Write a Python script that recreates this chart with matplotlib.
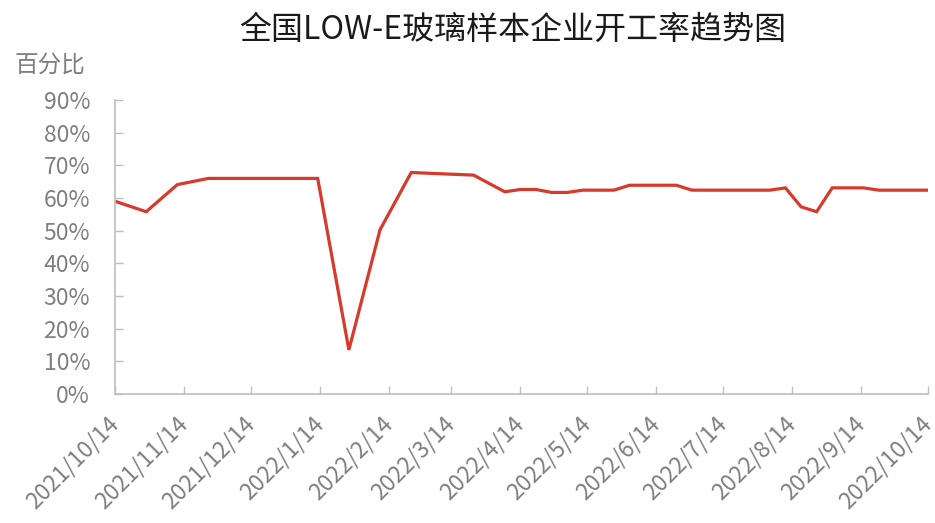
import matplotlib.pyplot as plt
import pandas as pd
from matplotlib.ticker import FuncFormatter

plt.rcParams['font.family'] = ['Noto Sans CJK SC', 'DejaVu Sans']

# weekly operating rate readings (vertices)
dates = ["2021-10-14", "2021-10-28", "2021-11-11", "2021-11-25", "2022-01-13",
         "2022-01-27", "2022-02-10", "2022-02-24", "2022-03-24", "2022-04-07",
         "2022-04-14", "2022-04-21", "2022-04-28", "2022-05-05", "2022-05-12",
         "2022-05-26", "2022-06-02", "2022-06-23", "2022-06-30", "2022-08-04",
         "2022-08-11", "2022-08-18", "2022-08-25", "2022-09-01", "2022-09-15",
         "2022-09-22", "2022-10-14"]
rates = [59.0, 55.8, 64.1, 66.0, 66.0,
         13.5, 50.3, 67.8, 67.0, 61.9,
         62.6, 62.6, 61.7, 61.7, 62.4,
         62.4, 63.9, 63.9, 62.4, 62.4,
         63.1, 57.3, 55.8, 63.1, 63.1,
         62.4, 62.4]

tick_dates = pd.date_range("2021-10-14", "2022-10-14", freq="MS") + pd.Timedelta(days=13)
tick_dates = [pd.Timestamp("2021-10-14")] + [d for d in tick_dates if d > pd.Timestamp("2021-10-14")]

x = pd.to_datetime(dates)
y = [r / 100 for r in rates]

fig = plt.figure(figsize=(9.35, 5.23), dpi=100)
ax = fig.add_axes([0.123, 0.2467, 0.8695, 0.5621])

ax.plot(x, y, color="#d63a2c", linewidth=2.3, solid_joinstyle="miter")

ax.set_xlim(pd.Timestamp("2021-10-14"), pd.Timestamp("2022-10-14"))
ax.set_ylim(0, 0.9)
ax.set_yticks([i / 10 for i in range(10)])
ax.yaxis.set_major_formatter(FuncFormatter(lambda v, p: f"{v * 100:.0f}%"))
ax.set_xticks(tick_dates)
ax.set_xticklabels([f"{d.year}/{d.month}/{d.day}" for d in tick_dates],
                   rotation=45, ha="right", va="center", rotation_mode="anchor")

grey = "#bfbfbf"
for s in ["top", "right"]:
    ax.spines[s].set_visible(False)
for s in ["left", "bottom"]:
    ax.spines[s].set_color(grey)
    ax.spines[s].set_linewidth(1.2)
ax.tick_params(axis="both", direction="in", length=6, width=1, color=grey,
               labelcolor="#7f7f7f", labelsize=16.5)
ax.tick_params(axis="y", pad=18)
ax.tick_params(axis="x", pad=19)

fig.text(0.015, 0.875, "百分比", fontsize=17, color="#7f7f7f", va="center")
fig.text(0.548, 0.943, "全国LOW-E玻璃样本企业开工率趋势图", fontsize=23,
         color="#1a1a1a", ha="center", va="center")

fig.savefig("out.png", dpi=100)
